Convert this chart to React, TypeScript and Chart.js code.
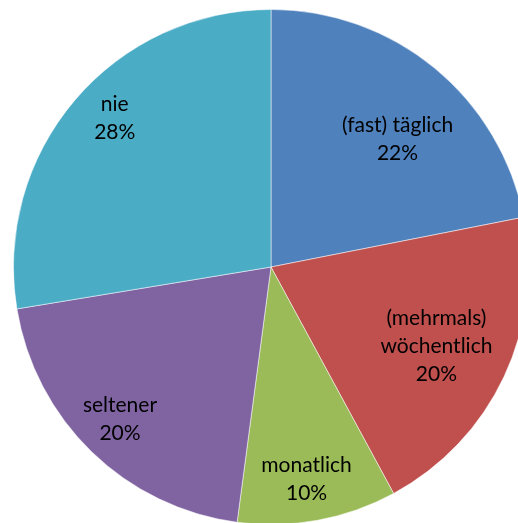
import React, { useEffect, useRef } from "react";
import { Chart, registerables } from "chart.js";

Chart.register(...registerables);

const categories = [["(fast) täglich"], ["(mehrmals)", "wöchentlich"], ["monatlich"], ["seltener"], ["nie"]];
const values = [21.9, 20.2, 10.0, 20.3, 27.6];
const colors = ["#4F81BD", "#C0504D", "#9BBB59", "#8064A2", "#4BACC6"];
const labelRadius = [0.70, 0.71, 0.83, 0.83, 0.84];
const labelAngleShift = [0.09, 0, 0.015, 0.015, 0.06];

const labelPlugin = {
  id: "sliceLabels",
  afterDatasetsDraw(chart: any) {
    const ctx = chart.ctx;
    const meta = chart.getDatasetMeta(0);
    const total = values.reduce((a, b) => a + b, 0);
    ctx.save();
    ctx.fillStyle = "#000";
    ctx.font = "21px Lato, 'Open Sans', sans-serif";
    ctx.textAlign = "center";
    ctx.textBaseline = "middle";
    meta.data.forEach((arc: any, i: number) => {
      const p = arc.getProps(["x", "y", "startAngle", "endAngle", "outerRadius"], true);
      const mid = (p.startAngle + p.endAngle) / 2 + labelAngleShift[i];
      const r = p.outerRadius * labelRadius[i];
      const cx = p.x + Math.cos(mid) * r;
      const cy = p.y + Math.sin(mid) * r;
      const lines = [...categories[i], Math.round((values[i] / total) * 100) + "%"];
      const lh = 28;
      const top = cy - ((lines.length - 1) * lh) / 2 + 1;
      lines.forEach((t, j) => ctx.fillText(t, cx, top + j * lh));
    });
    ctx.restore();
  },
};

export default function App() {
  const ref = useRef<HTMLCanvasElement>(null);
  useEffect(() => {
    document.body.style.margin = "0";
    document.body.style.overflow = "hidden";
    const chart = new Chart(ref.current!, {
      type: "pie",
      data: {
        labels: categories.map((c) => c.join(" ")),
        datasets: [
          {
            data: values,
            backgroundColor: colors,
            borderColor: "rgba(255,255,255,0.5)",
            borderWidth: 1,
          },
        ],
      },
      options: {
        responsive: false,
        animation: false,
        layout: { padding: { left: 13, top: 9, right: 13, bottom: 9 } },
        plugins: { legend: { display: false }, tooltip: { enabled: false } },
      },
      plugins: [labelPlugin],
    });
    return () => chart.destroy();
  }, []);
  return (
    <div style={{ position: "fixed", left: 0, top: 0, width: 518, height: 523, overflow: "hidden", background: "#fff" }}>
      <canvas ref={ref} width={542} height={534} style={{ display: "block" }} />
    </div>
  );
}
